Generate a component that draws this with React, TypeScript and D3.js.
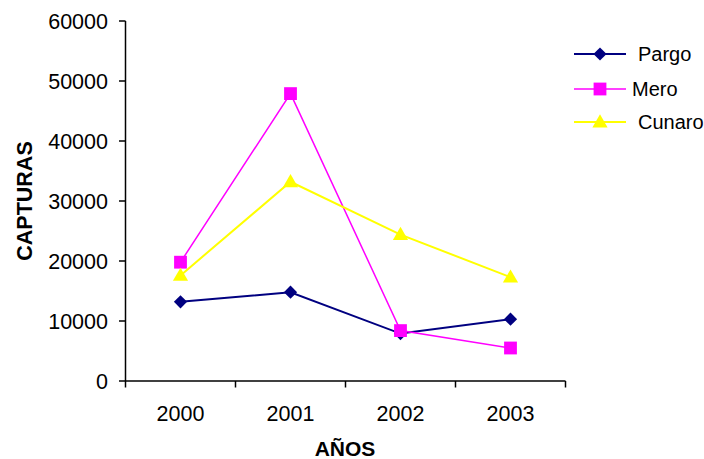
import React from "react";
import * as d3 from "d3";

const years = ["2000", "2001", "2002", "2003"];
const pargo = [13200, 14800, 7900, 10300];
const mero = [19800, 47900, 8400, 5500];
const cunaro = [17600, 33200, 24400, 17300];
const yTicks = [0, 10000, 20000, 30000, 40000, 50000, 60000];

const series = [
  { name: "Pargo", values: pargo, color: "#000080", width: 2, marker: "diamond" },
  { name: "Mero", values: mero, color: "#FF00FF", width: 1.5, marker: "square" },
  { name: "Cunaro", values: cunaro, color: "#FFFF00", width: 2, marker: "triangle" },
];

const W = 704;
const H = 459;
const FONT = "Liberation Sans, Arial, sans-serif";

function Marker({ type, x, y, color }: { type: string; x: number; y: number; color: string }) {
  if (type === "diamond") {
    const r = 6.6;
    return <path d={`M${x},${y - r}L${x + r},${y}L${x},${y + r}L${x - r},${y}Z`} fill={color} />;
  }
  if (type === "square") {
    const r = 6.4;
    return <rect x={x - r} y={y - r} width={2 * r} height={2 * r} fill={color} />;
  }
  const sym = d3.symbol(d3.symbolTriangle, 100)();
  return <path d={sym || ""} transform={`translate(${x},${y + 1})`} fill={color} />;
}

export default function App() {
  const x = d3.scaleBand().domain(years).range([125.5, 565.5]);
  const y = d3.scaleLinear().domain([0, 60000]).range([381, 21]);
  const line = d3
    .line<number>()
    .x((_, i) => (x(years[i]) as number) + x.bandwidth() / 2)
    .y((d) => y(d));
  const boundaries = [...years.map((c) => x(c) as number), x.range()[1]];
  const legendY = [54, 89, 122];
  const legendTextX = [638, 632, 638];

  return (
    <svg
      width={W}
      height={H}
      style={{ position: "absolute", left: 0, top: 0, background: "#fff" }}
      fontFamily={FONT}
    >
      <rect width={W} height={H} fill="#fff" />
      {/* y axis */}
      <line x1={125.5} x2={125.5} y1={y(60000)} y2={y(0)} stroke="#000" strokeWidth={1.5} />
      {yTicks.map((t) => (
        <g key={t}>
          <line x1={119} x2={125.5} y1={y(t)} y2={y(t)} stroke="#000" strokeWidth={1.5} />
          <text x={108} y={y(t)} dy="0.36em" textAnchor="end" fontSize={21.5} fill="#000">
            {t}
          </text>
        </g>
      ))}
      {/* x axis */}
      <line x1={125.5} x2={565.5} y1={y(0)} y2={y(0)} stroke="#000" strokeWidth={1.5} />
      {boundaries.map((b, i) => (
        <line key={i} x1={b} x2={b} y1={y(0)} y2={y(0) + 6.5} stroke="#000" strokeWidth={1.5} />
      ))}
      {years.map((c) => (
        <text
          key={c}
          x={(x(c) as number) + x.bandwidth() / 2}
          y={420.5}
          textAnchor="middle"
          fontSize={21.5}
          fill="#000"
        >
          {c}
        </text>
      ))}
      <text x={345} y={455.5} textAnchor="middle" fontSize={21} fontWeight="bold" fill="#000">
        AÑOS
      </text>
      <text
        transform={`translate(31.5,${(y(0) + y(60000)) / 2}) rotate(-90)`}
        textAnchor="middle"
        fontSize={21.5}
        fontWeight="bold"
        fill="#000"
      >
        CAPTURAS
      </text>
      {/* series */}
      {series.map((s) => (
        <g key={s.name}>
          <path d={line(s.values) || ""} fill="none" stroke={s.color} strokeWidth={s.width} />
          {s.values.map((v, i) => (
            <Marker
              key={i}
              type={s.marker}
              x={(x(years[i]) as number) + x.bandwidth() / 2}
              y={y(v)}
              color={s.color}
            />
          ))}
        </g>
      ))}
      {/* legend */}
      {series.map((s, i) => (
        <g key={s.name}>
          <line x1={574} x2={626} y1={legendY[i]} y2={legendY[i]} stroke={s.color} strokeWidth={s.width} />
          <Marker type={s.marker} x={600} y={legendY[i]} color={s.color} />
          <text x={legendTextX[i]} y={legendY[i]} dy="0.36em" fontSize={20} fill="#000">
            {s.name}
          </text>
        </g>
      ))}
    </svg>
  );
}
